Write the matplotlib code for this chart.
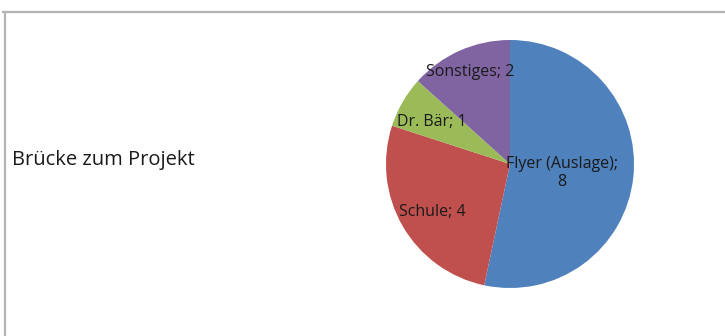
import matplotlib
matplotlib.use("Agg")
import matplotlib.pyplot as plt
from matplotlib.lines import Line2D

# Data
categories = ["Flyer (Auslage)", "Schule", "Dr. Bär", "Sonstiges"]
counts = [8, 4, 1, 2]
colors = ["#4F81BD", "#C0504D", "#9BBB59", "#8064A2"]
title = "Brücke zum Projekt"

# label anchor points (in pie units) and line-break style per slice
label_pos = [(0.42, -0.07), (-0.63, -0.39), (-0.63, 0.34), (-0.32, 0.74)]
label_sep = [";\n", "; ", "; ", "; "]

W, H = 725, 336
fig = plt.figure(figsize=(W / 100, H / 100), dpi=100)
fig.patch.set_facecolor("white")

# frame lines (top and left)
fig.add_artist(Line2D([3 / W, 1.0], [1 - 11.5 / H, 1 - 11.5 / H],
                      transform=fig.transFigure, color="#b4b4b4", lw=1.6))
fig.add_artist(Line2D([4.5 / W, 4.5 / W], [0, 1 - 11.5 / H],
                      transform=fig.transFigure, color="#b4b4b4", lw=1.6))

# pie
cx, cy, r = 510, 164, 124
ax = fig.add_axes([(cx - r) / W, (H - cy - r) / H, 2 * r / W, 2 * r / H])
ax.pie(counts, colors=colors, startangle=90, counterclock=False,
       radius=1.0, wedgeprops=dict(linewidth=0))
ax.set_xlim(-1, 1)
ax.set_ylim(-1, 1)
ax.set_aspect("equal")
ax.axis("off")

for name, val, (x, y), sep in zip(categories, counts, label_pos, label_sep):
    ax.text(x, y, f"{name}{sep}{val}", ha="center", va="center",
            fontsize=11.5, color="#1a1a1a", family="Open Sans",
            linespacing=1.15)

fig.text(12 / W, 1 - 160 / H, title, ha="left", va="center",
         fontsize=14.5, color="#1a1a1a", family="Open Sans")

fig.savefig("out.png", dpi=100, facecolor="white")
